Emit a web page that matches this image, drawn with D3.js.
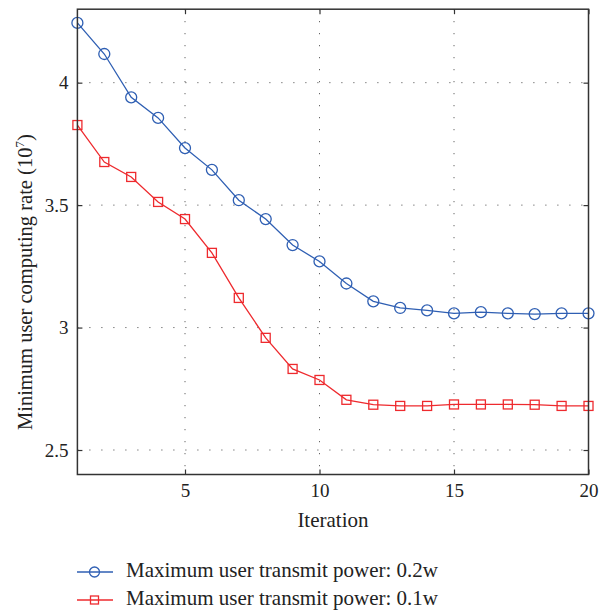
<!DOCTYPE html>
<html><head><meta charset="utf-8">
<script src="https://cdn.jsdelivr.net/npm/d3@7"></script>
<style>body{margin:0;background:#fff}svg{display:block}</style>
</head><body><svg id="c" width="600" height="613"></svg>
<script>
const iterations = d3.range(1, 21);
const seriesNames = ["Maximum user transmit power: 0.2w", "Maximum user transmit power: 0.1w"];
const power02 = [4.244,4.117,3.94,3.856,3.733,3.644,3.52,3.443,3.337,3.27,3.18,3.107,3.08,3.07,3.058,3.063,3.058,3.055,3.058,3.058];
const power01 = [3.827,3.676,3.615,3.513,3.443,3.305,3.121,2.958,2.831,2.786,2.705,2.685,2.68,2.68,2.686,2.686,2.686,2.685,2.68,2.68];
const xTicks = [5,10,15,20];
const yTicks = [2.5,3,3.5,4];

const FONT = "Liberation Serif";
const svg = d3.select("#c");
const L=77.4, R=588.5, T=9.2, B=474.5;
const x = d3.scaleLinear().domain([1,20]).range([L,R]);
const y = d3.scaleLinear().domain([2.4,4.3]).range([B,T]);
const axisCol="#333";

const g = svg.append("g");
g.selectAll(".gx").data(xTicks.filter(d=>d<20)).join("line")
 .attr("x1",d=>x(d)).attr("x2",d=>x(d)).attr("y1",T).attr("y2",B)
 .attr("stroke","#444").attr("stroke-width",1).attr("stroke-dasharray","1,11");
g.selectAll(".gy").data(yTicks).join("line")
 .attr("y1",d=>y(d)).attr("y2",d=>y(d)).attr("x1",L).attr("x2",R)
 .attr("stroke","#444").attr("stroke-width",1).attr("stroke-dasharray","1,11");

const blue="#2f5fb3", red="#ee2a2e";
const line = d3.line().x((d,i)=>x(iterations[i])).y(d=>y(d));
svg.append("path").datum(power02).attr("d",line).attr("fill","none").attr("stroke",blue).attr("stroke-width",1.3);
svg.append("path").datum(power01).attr("d",line).attr("fill","none").attr("stroke",red).attr("stroke-width",1.3);
svg.selectAll(".cb").data(power02).join("circle").attr("cx",(d,i)=>x(iterations[i])).attr("cy",d=>y(d))
 .attr("r",5.5).attr("fill","none").attr("stroke",blue).attr("stroke-width",1.3);
svg.selectAll(".sr").data(power01).join("rect").attr("x",(d,i)=>x(iterations[i])-4.5).attr("y",d=>y(d)-4.5)
 .attr("width",9).attr("height",9).attr("fill","none").attr("stroke",red).attr("stroke-width",1.3);

const ax = (axis, tr) => {
  const a = svg.append("g").attr("transform",tr).call(axis);
  a.attr("font-family",FONT).attr("font-size",19);
  a.select(".domain").remove();
  a.selectAll("line").attr("stroke",axisCol).attr("stroke-width",1.2);
  a.selectAll("text").attr("fill","#222").attr("font-family",FONT);
  return a;
};
ax(d3.axisBottom(x).tickValues(xTicks).tickSize(-5).tickPadding(9).tickFormat(d3.format("d")), `translate(0,${B})`);
ax(d3.axisTop(x).tickValues(xTicks).tickSize(-5).tickFormat(""), `translate(0,${T})`);
ax(d3.axisLeft(y).tickValues(yTicks).tickSize(-5).tickPadding(9).tickFormat(d=>d), `translate(${L},0)`);
ax(d3.axisRight(y).tickValues(yTicks).tickSize(-5).tickFormat(""), `translate(${R},0)`);
svg.append("rect").attr("x",L).attr("y",T).attr("width",R-L).attr("height",B-T)
 .attr("fill","none").attr("stroke",axisCol).attr("stroke-width",1.5);

const txt = (sel,fs)=>sel.attr("font-family",FONT).attr("font-size",fs||21).attr("fill","#222");
txt(svg.append("text")).attr("x",(L+R)/2).attr("y",527).attr("text-anchor","middle").text("Iteration");
const yt = txt(svg.append("text"),20.5).attr("transform",`translate(32,430) rotate(-90)`).attr("text-anchor","start");
yt.append("tspan").text("Minimum user computing rate (10");
yt.append("tspan").attr("dy",-8).attr("font-size",13).text("7");
yt.append("tspan").attr("dy",8).text(")");

const leg = [[seriesNames[0],blue,"c"],[seriesNames[1],red,"s"]];
leg.forEach((l,i)=>{
  const yy = 572 + i*28;
  svg.append("line").attr("x1",77).attr("x2",113).attr("y1",yy).attr("y2",yy).attr("stroke",l[1]).attr("stroke-width",1.3);
  if(l[2]==="c") svg.append("circle").attr("cx",94.5).attr("cy",yy).attr("r",5).attr("fill","none").attr("stroke",l[1]).attr("stroke-width",1.3);
  else svg.append("rect").attr("x",90.5).attr("y",yy-4).attr("width",8).attr("height",8).attr("fill","none").attr("stroke",l[1]).attr("stroke-width",1.3);
  txt(svg.append("text")).attr("x",126).attr("y",yy+5).text(l[0]);
});
</script></body></html>
